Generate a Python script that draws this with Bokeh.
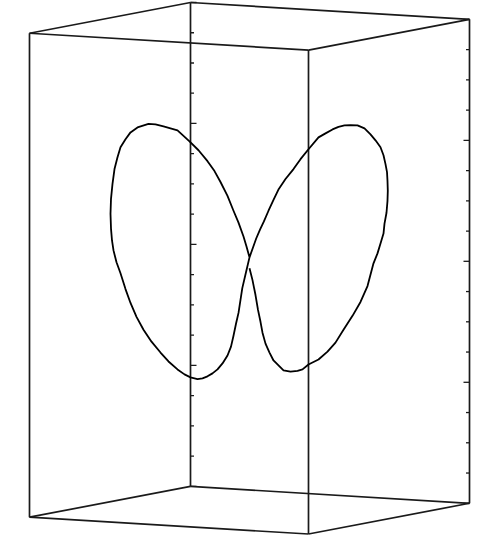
from bokeh.plotting import figure
from bokeh.models import Range1d
from bokeh.embed import file_html
from bokeh.resources import INLINE

# Projected 3-D box: screen positions of the top corners (x, y downwards)
box_top = {"back": (190, 2), "left": (29, 33), "front": (308, 50), "right": (469, 19)}
box_height = 488
n_minor = 16     # minor tick intervals along the vertical axes
major_every = 4

# Figure-eight curve (projected screen positions)
curve_x = [249, 246, 243, 238, 233, 227, 220, 214, 207, 198, 189, 177, 163, 155, 148, 137, 130,
           125, 120, 117, 114, 112, 110.5, 110, 110.5, 111.5, 113,
           116, 120, 125, 130, 136, 143, 151, 160, 168, 177, 184, 190, 197, 202, 207, 212, 217,
           222, 227, 230.5, 233, 235.5, 238, 240, 241.8, 245.5, 249,
           252.5, 255.7, 259.5, 263.3, 268, 273, 278.3, 285, 293, 300, 308, 318, 325, 332, 338,
           344, 350, 357,
           364, 370, 375, 380, 383, 385, 386.5, 387, 387.3, 387, 386, 384, 383, 380, 377,
           373, 367, 360, 352, 343, 335, 327, 318, 308, 302, 297, 290, 283, 278, 273, 269,
           265, 262, 260, 257.5, 255, 252, 249]
curve_y = [259, 248, 238, 224, 212, 197, 183, 172, 162, 151, 142, 131, 127, 125, 124.5, 128, 133,
           140, 148, 158, 170, 185, 200, 215, 230, 242, 252,
           264, 275, 291, 305, 319, 332, 344, 355, 364, 372, 377, 380, 381.7, 381, 379, 376, 372,
           366, 358, 349, 338, 326, 315, 302, 290, 274, 259,
           249, 240, 231, 223, 212, 201, 190, 180, 170, 160, 150, 138, 134, 130, 127.5,
           126, 125.7, 126,
           129, 135, 141, 148, 156, 165, 173, 182, 192, 202, 214, 225, 235, 245, 255, 265,
           288, 304, 318, 332, 345, 354, 362, 367, 372, 373.5, 374.3, 373, 368, 363, 355, 346,
           335, 324, 312, 297, 282, 270, 259]

LINE = "#1a1a1a"

p = figure(width=484, height=536, output_backend="svg", toolbar_location=None,
           x_range=Range1d(0, 484), y_range=Range1d(540.5, 0),
           min_border=0, outline_line_color=None, background_fill_color="white")
p.axis.visible = False
p.grid.visible = False

def pt(name, drop=0):
    x, y = box_top[name]
    return (x, y + drop)

edges = []
order = ["back", "left", "front", "right"]
for i in range(4):
    a, b = order[i], order[(i + 1) % 4]
    edges.append((pt(a), pt(b)))
    edges.append((pt(a, box_height), pt(b, box_height)))
for name in order:
    edges.append((pt(name), pt(name, box_height)))

p.multi_line(xs=[[e[0][0], e[1][0]] for e in edges],
             ys=[[e[0][1], e[1][1]] for e in edges],
             line_color=LINE, line_width=1.7)

# ticks on the back vertical axis (pointing right) and right vertical axis (pointing left)
txs, tys = [], []
for name, direction in (("back", 1), ("right", -1)):
    x0, y0 = box_top[name]
    for k in range(n_minor + 1):
        y = y0 + box_height * k / n_minor
        length = 6 if k % major_every == 0 else 3.5
        txs.append([x0, x0 + direction * length])
        tys.append([y, y])
p.multi_line(xs=txs, ys=tys, line_color=LINE, line_width=1.3)

p.line(curve_x, curve_y, line_color="black", line_width=1.8, line_join="round")

open("out.html", "w").write(file_html(p, INLINE))
